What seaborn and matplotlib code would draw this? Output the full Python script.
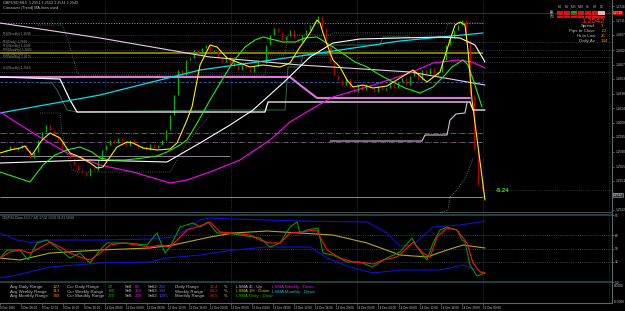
import numpy as np
import matplotlib
matplotlib.use("Agg")
import matplotlib.pyplot as plt
from matplotlib.patches import Rectangle
import seaborn as sns

# Velas GBPUSD M15 (cierres), una vela cada 4 pasos de tiempo
cierres = [1.2580, 1.2582, 1.2586, 1.2582, 1.2584, 1.2587, 1.2582, 1.2574, 1.2580, 1.2592,
           1.2600, 1.2607, 1.2602, 1.2597, 1.2592, 1.2584, 1.2580, 1.2574, 1.2567, 1.2562,
           1.2560, 1.2556, 1.2564, 1.2562, 1.2572, 1.2582, 1.2587, 1.2592, 1.2589, 1.2594,
           1.2590, 1.2586, 1.2592, 1.2588, 1.2584, 1.2586, 1.2582, 1.2588, 1.2584, 1.2587,
           1.2592, 1.2602, 1.2617, 1.2637, 1.2662, 1.2657, 1.2672, 1.2674, 1.2682, 1.2677,
           1.2684, 1.2687, 1.2680, 1.2682, 1.2674, 1.2670, 1.2676, 1.2666, 1.2670, 1.2662,
           1.2667, 1.2664, 1.2660, 1.2666, 1.2672, 1.2670, 1.2687, 1.2697, 1.2704, 1.2700,
           1.2692, 1.2696, 1.2702, 1.2694, 1.2690, 1.2697, 1.2702, 1.2707, 1.2710, 1.2716,
           1.2704, 1.2687, 1.2670, 1.2657, 1.2652, 1.2647, 1.2654, 1.2644, 1.2640, 1.2647,
           1.2642, 1.2648, 1.2644, 1.2640, 1.2646, 1.2642, 1.2644, 1.2648, 1.2644, 1.2650,
           1.2654, 1.2647, 1.2656, 1.2660, 1.2652, 1.2662, 1.2658, 1.2664, 1.2657, 1.2660,
           1.2672, 1.2687, 1.2694, 1.2702, 1.2707, 1.2712, 1.2692, 1.2637, 1.2582, 1.2547,
           1.2542]
t_velas = np.arange(2, 483, 4)

# Medias del grafico principal (x = paso de tiempo, y = precio)
amarilla_x = [0, 10, 20, 25, 32, 42, 50, 60, 70, 80, 90, 97, 103, 117, 127, 133, 143, 157, 170, 177,
              187, 192, 200, 210, 217, 227, 237, 250, 263, 280, 290, 300, 310, 317, 320, 323, 328, 333,
              340, 347, 353, 363, 373, 387, 400, 413, 427, 440, 450, 455, 460, 465, 468, 472, 485]
amarilla_y = [1.2579, 1.2582, 1.2584, 1.2586, 1.2577, 1.2592, 1.2599, 1.2594, 1.2579, 1.2575,
              1.2569, 1.2564, 1.2565, 1.2585, 1.2590, 1.2589, 1.2584, 1.2582, 1.2583, 1.2589,
              1.2612, 1.2625, 1.2667, 1.2687, 1.2685, 1.2674, 1.2670, 1.2665, 1.2667, 1.2665,
              1.2669, 1.2685, 1.2699, 1.2712, 1.2709, 1.2699, 1.2685, 1.2672, 1.2665, 1.2652,
              1.2645, 1.2647, 1.2644, 1.2646, 1.2654, 1.2662, 1.2650, 1.2660, 1.2692, 1.2707,
              1.2710, 1.2707, 1.2682, 1.2632, 1.2532]

lima_x = [0, 15, 30, 43, 55, 67, 80, 92, 100, 110, 125, 143, 157, 167, 180, 187, 193, 200, 210, 222,
          233, 245, 255, 263, 275, 283, 295, 305, 317, 325, 333, 345, 355, 367, 380, 393, 405, 420,
          433, 445, 452, 463, 468, 475, 482]
lima_y = [1.2560, 1.2555, 1.2550, 1.2567, 1.2577, 1.2582, 1.2585, 1.2580, 1.2574, 1.2572,
          1.2572, 1.2574, 1.2576, 1.2580, 1.2587, 1.2592, 1.2602, 1.2614, 1.2632, 1.2652,
          1.2670, 1.2685, 1.2692, 1.2695, 1.2692, 1.2690, 1.2690, 1.2694, 1.2695, 1.2690,
          1.2685, 1.2677, 1.2670, 1.2665, 1.2657, 1.2650, 1.2644, 1.2639, 1.2645, 1.2657,
          1.2665, 1.2672, 1.2667, 1.2647, 1.2625]

cian_x = [0, 100, 200, 300, 400, 483]
cian_y = [1.2619, 1.2637, 1.2662, 1.2676, 1.2691, 1.2699]

magenta_x = [0, 33, 67, 100, 133, 170, 187, 210, 240, 270, 290, 310, 333, 367, 410, 433, 458, 472, 485]
magenta_y = [1.2620, 1.2599, 1.2579, 1.2567, 1.2560, 1.2549, 1.2552, 1.2560, 1.2572, 1.2592,
             1.2610, 1.2622, 1.2635, 1.2645, 1.2659, 1.2669, 1.2672, 1.2670, 1.2664]

blanca_x = [0, 90, 167, 200, 230, 253, 283, 310, 333, 360, 400, 440, 460, 475, 485]
blanca_y = [1.2569, 1.2572, 1.2570, 1.2589, 1.2607, 1.2622, 1.2649, 1.2675, 1.2689, 1.2693,
            1.2694, 1.2695, 1.2694, 1.2687, 1.2670]

lila_x = [0, 100, 210, 300, 410, 485]
lila_y = [1.2709, 1.2694, 1.2675, 1.2667, 1.2660, 1.2647]

# lineas escalonadas (canales)
esc_blanca_x = [0, 60, 70, 77, 265, 268, 470, 473, 485]
esc_blanca_y = [1.2655, 1.2653, 1.2632, 1.2620, 1.2620, 1.2630, 1.2630, 1.2622, 1.2622]
esc_rosa_x = [0, 290, 300, 317, 470]
esc_rosa_y = [1.2655, 1.2655, 1.2647, 1.2634, 1.2634]
esc_clara_x = [330, 422, 425, 447, 450, 456, 465, 467]
esc_clara_y = [1.2591, 1.2591, 1.2597, 1.2597, 1.2612, 1.2618, 1.2619, 1.2629]
esc_sup_x = [38, 62, 68, 77, 80, 210, 265, 268, 285, 288, 330, 333, 445, 448, 483]
esc_sup_y = [1.2707, 1.2707, 1.2692, 1.2660, 1.2657, 1.2657, 1.2657, 1.2677, 1.2677, 1.2697,
             1.2697, 1.2699, 1.2699, 1.2709, 1.2709]
esc_inf_x = [40, 60, 62, 67, 72, 77, 170, 173, 187, 200, 210]
esc_inf_y = [1.2619, 1.2619, 1.2599, 1.2579, 1.2562, 1.2560, 1.2560, 1.2565, 1.2589, 1.2605, 1.2617]
esc_caida_x = [440, 448, 450, 457, 465, 470, 473]
esc_caida_y = [1.2519, 1.2522, 1.2535, 1.2542, 1.2554, 1.2565, 1.2574]
esc_verde_x = [40, 52, 57, 67, 77, 215, 285, 288, 300, 303, 330, 333, 380, 383, 410]
esc_verde_y = [1.2649, 1.2649, 1.2642, 1.2622, 1.2620, 1.2622, 1.2622, 1.2665, 1.2665, 1.2677,
               1.2677, 1.2687, 1.2687, 1.2695, 1.2695]

# niveles horizontales (pivotes)
niveles = [1.2709, 1.2697, 1.2679, 1.2650, 1.2599, 1.2590, 1.2535, 1.2576]
niveles_color = ["#b090b0", "#505050", "#808000", "#4060a0", "#806080", "#806080", "#7090d0", "#c8b8c8"]
niveles_estilo = [":", ":", "-", "--", "-.", "-.", "-", "-"]
niveles_fin = [483, 483, 483, 483, 483, 483, 483, 230]
niveles_ancho = [0.7, 0.5, 1.4, 0.6, 0.6, 0.6, 0.7, 0.5]
niveles_largos = [1.2690, 1.2682, 1.2675, 1.2670, 1.2660]
etiquetas_niv = ["R3(Weekly) 1.2698", "R2(Daily) 1.2690", "R1(Weekly) 1.2686", "PP(Monthly) 1.2682",
                 "R1(Daily) 1.2678", "PP(Weekly) 1.2675", "S1(Weekly) 1.2664"]
etiquetas_niv_y = [1.2698, 1.2690, 1.2686, 1.2682, 1.2678, 1.2675, 1.2664]
precio_ticks = [1.2522, 1.2551, 1.2565, 1.2580, 1.2595, 1.2609, 1.2624, 1.2638,
                1.2653, 1.2667, 1.2682, 1.2697, 1.2711, 1.2726]

# Indicador TDI (subventana)
rojo_x = [0, 10, 20, 30, 50, 60, 70, 80, 90, 100, 110, 123, 137, 150, 160, 170, 177, 187, 200, 210,
          220, 233, 250, 260, 270, 280, 290, 300, 317, 320, 327, 340, 353, 367, 373, 383, 397, 405,
          413, 423, 430, 437, 447, 457, 467, 473, 480, 485]
rojo_y = [37.2, 45.3, 48.0, 43.9, 58.7, 52.0, 43.9, 38.6, 34.5, 43.9, 54.7, 57.4, 54.7, 52.0, 54.7,
          52.0, 61.4, 74.8, 80.2, 85.6, 72.2, 70.8, 68.1, 61.4, 57.4, 57.4, 70.8, 72.2, 74.8, 65.4,
          48.0, 37.2, 31.9, 30.5, 29.2, 34.5, 38.6, 48.0, 58.7, 43.9, 38.6, 65.4, 77.5, 74.8, 57.4,
          30.5, 18.4, 17.1]
verde_x = [0, 7, 20, 28, 37, 47, 60, 70, 80, 90, 100, 107, 127, 147, 157, 165, 170, 180, 193, 200,
           208, 217, 227, 240, 260, 270, 280, 290, 297, 300, 307, 318, 323, 333, 347, 360, 372, 387,
           400, 412, 417, 427, 433, 440, 447, 457, 462, 465, 470, 477, 485]
verde_y = [37.2, 48.0, 48.0, 34.5, 57.4, 61.4, 48.0, 37.2, 43.9, 30.5, 48.0, 57.4, 57.4, 54.7, 70.8,
           43.9, 52.0, 78.9, 84.2, 78.9, 85.6, 70.8, 70.8, 68.1, 64.1, 52.0, 57.4, 78.9, 85.6, 70.8,
           74.8, 77.5, 43.9, 41.3, 31.9, 31.9, 25.1, 37.2, 45.3, 64.1, 52.0, 34.5, 57.4, 74.8, 78.9,
           74.8, 61.4, 58.7, 27.8, 13.1, 17.1]
oliva_x = [0, 20, 50, 100, 150, 173, 210, 233, 267, 300, 333, 367, 400, 427, 447, 463, 485]
oliva_y = [37.2, 34.5, 43.9, 48.0, 50.7, 54.7, 65.4, 70.8, 73.5, 70.8, 68.1, 57.4, 41.3, 38.6, 48.0, 54.7, 50.7]
azul_sup_x = [0, 17, 33, 43, 100, 150, 173, 190, 200, 210, 233, 300, 367, 387, 400, 413, 433, 460, 480, 485]
azul_sup_y = [70.8, 61.4, 57.4, 61.4, 61.4, 62.7, 65.4, 77.5, 88.3, 91.0, 89.6, 86.9, 85.6, 70.8,
              53.4, 54.7, 78.9, 81.6, 85.6, 86.9]
azul_inf_x = [0, 17, 50, 100, 150, 167, 200, 233, 267, 310, 327, 350, 373, 400, 440, 463, 485]
azul_inf_y = [10.4, 14.4, 25.1, 30.5, 31.9, 37.2, 41.3, 48.0, 52.0, 52.0, 37.2, 25.1, 17.1, 21.1, 21.1, 27.8, 17.1]

tiempo_ticks = [0, 21, 42, 63, 84, 105, 126, 147, 168, 189, 210, 231, 252, 273, 294, 315, 336, 357,
                378, 399, 420, 441, 462, 483]
tiempo_labels = ["9 Dec 2016", "9 Dec 08:00", "9 Dec 12:00", "9 Dec 16:00", "9 Dec 20:00",
                 "12 Dec 00:00", "12 Dec 04:00", "12 Dec 08:00", "12 Dec 12:00", "12 Dec 16:00",
                 "12 Dec 20:00", "13 Dec 00:00", "13 Dec 04:00", "13 Dec 08:00", "13 Dec 12:00",
                 "13 Dec 16:00", "13 Dec 20:00", "14 Dec 00:00", "14 Dec 04:00", "14 Dec 08:00",
                 "14 Dec 12:00", "14 Dec 16:00", "14 Dec 20:00", "15 Dec 00:00"]
grid_x = [105, 231, 357, 483, 609]

# panel de texto inferior
filas = ["Daily", "Weekly", "Monthly"]
rango_prom = ["127", "313", "740"]
rango_act = ["28", "190", "270"]
sell1 = ["89", "110", "200"]
sell2 = ["242", "904", "1095"]
rango_pct = ["22.4", "63.3", "38.5"]
lsma_1 = [("LSMA 4I : Up", "#e0a8e0"), ("LSMA 1H : Down", "#c8c000"), ("LSMA Daily : Down", "#00c000")]
lsma_2 = [("LSMA Weekly : Down", "#ff00ff"), ("LSMA Monthly : Down", "#00c8c8")]

# panel superior derecho
marcos = ["M1", "M5", "M15", "M30", "H1", "H4", "D1"]
estados = [["r", "r", "g", "r", "r", "r", "p"],
           ["r", "r", "r", "r", "r", "r", "p"],
           ["r", "r", "r", "r", "r", "r", "r"]]
info = [("Spread", "3"), ("Pips to Close", "-22"), ("Hi to Low", "26"), ("Daily Av", "144")]

sns.set_theme(style="dark", rc={"axes.facecolor": "black", "figure.facecolor": "black",
                                "savefig.facecolor": "black"})
plt.rcParams["font.family"] = ["Liberation Sans", "DejaVu Sans"]

W, H = 625, 311
fig = plt.figure(figsize=(W / 100, H / 100), dpi=100, facecolor="black")


def px(x, y):
    return x / W, 1 - y / H


def linea(ax, x, y, color, lw=0.75, ls="-", z=3):
    sns.lineplot(x=x, y=y, ax=ax, color=color, linewidth=lw, linestyle=ls, sort=False,
                 estimator=None, legend=False, zorder=z)


ax = fig.add_axes([0, 1 - 213 / H, 612 / W, 213 / H])
ax2 = fig.add_axes([0, 1 - 303 / H, 612 / W, 90 / H])

# ---- grafico principal
for gx in grid_x:
    ax.axvline(gx, color="#44524e", ls=":", lw=0.5, zorder=0)
    ax2.axvline(gx, color="#44524e", ls=":", lw=0.5, zorder=0)

ax.hlines(1.2719, 0, 612, color="#a00000", lw=0.7, zorder=1)
for nv, c, st, fin, an in zip(niveles, niveles_color, niveles_estilo, niveles_fin, niveles_ancho):
    ax.hlines(nv, 0, fin, color=c, ls=st, lw=an, zorder=1)
for nv in niveles_largos:
    ax.hlines(nv, 0, 612, color="#5a5a5a", ls=":", lw=0.5, zorder=1)
ax.hlines(1.2542, 483, 612, color="#505050", ls=":", lw=0.5, zorder=1)

aperturas = [cierres[0]] + cierres[:-1]
col_velas = ["#00b400" if c >= o else "#b40000" for o, c in zip(aperturas, cierres)]
ax.vlines(t_velas, np.minimum(aperturas, cierres), np.maximum(aperturas, cierres),
          colors=col_velas, lw=0.9, zorder=2)

linea(ax, esc_sup_x, esc_sup_y, "#6a7a70", 0.6, ":")
linea(ax, esc_inf_x, esc_inf_y, "#6a6a6a", 0.6, ":")
linea(ax, esc_caida_x, esc_caida_y, "#8a8a8a", 0.6, ":")
linea(ax, esc_verde_x, esc_verde_y, "#2f6a4a", 0.7)
linea(ax, esc_clara_x, esc_clara_y, "#d8c0d8", 0.8)
linea(ax, esc_rosa_x, esc_rosa_y, "#dd77dd", 1.5)
linea(ax, esc_blanca_x, esc_blanca_y, "#ffffff", 0.9)
linea(ax, lila_x, lila_y, "#e8cce8", 0.8)
linea(ax, cian_x, cian_y, "#00e0f0", 0.9)
linea(ax, magenta_x, magenta_y, "#ff00ff", 0.8)
linea(ax, blanca_x, blanca_y, "#ffffff", 0.8)
linea(ax, lima_x, lima_y, "#20ee20", 0.8)
linea(ax, amarilla_x, amarilla_y, "#ffee00", 0.8, z=4)

ax.set_xlim(0, 612)
ax.set_ylim(1.2519, 1.2732)
ax.set_xlabel("")
ax.set_ylabel("")
ax.set_xticks([])
ax.yaxis.tick_right()
ax.set_yticks(precio_ticks)
ax.set_yticklabels([f"{p:.4f}" for p in precio_ticks])
ax.tick_params(axis="y", right=True, left=False, labelright=True, labelleft=False, length=1.5,
               width=0.5, color="#708080", labelsize=2.3, labelcolor="#c0c0c0", pad=0.8)
for s in ["top", "left"]:
    ax.spines[s].set_visible(False)
ax.spines["right"].set_color("#5a6a6a")
ax.spines["right"].set_linewidth(0.8)
ax.spines["bottom"].set_color("#4a5a5a")
ax.spines["bottom"].set_linewidth(1.2)

for txt, yv in zip(etiquetas_niv, etiquetas_niv_y):
    ax.text(3, yv, txt, fontsize=2.3, color="#8a8a8a", va="center", ha="left")

ax.text(613, 1.2719, "1.2719", fontsize=2.3, color="white", va="center", ha="left", clip_on=False,
        bbox=dict(boxstyle="square,pad=0.15", fc="#d00000", ec="none"))
ax.text(613, 1.2537, "1.2542", fontsize=2.3, color="#e0e0e0", va="center", ha="left", clip_on=False,
        bbox=dict(boxstyle="square,pad=0.15", fc="#303838", ec="#a0a0a0", lw=0.4))
ax.text(496, 1.2541, "-5.24", fontsize=4.3, color="#00ff00", fontweight="bold", va="center", ha="left")

# ---- subventana TDI
ax2.axhline(95, color="#2f4f4f", lw=1.1, zorder=1)
ax2.axhline(5, color="#2f4f4f", lw=1.1, zorder=1)
for lv in [68, 50, 32]:
    ax2.axhline(lv, color="#5a6a6a", ls=":", lw=0.5, zorder=1)

linea(ax2, azul_sup_x, azul_sup_y, "#1010d0", 0.8)
linea(ax2, azul_inf_x, azul_inf_y, "#1010d0", 0.8)
linea(ax2, oliva_x, oliva_y, "#b0a818", 0.8)
linea(ax2, verde_x, verde_y, "#009a00", 0.8)
linea(ax2, rojo_x, rojo_y, "#ff1010", 0.8, z=4)

ax2.set_xlim(0, 612)
ax2.set_ylim(-23.2, 97.7)
ax2.set_xlabel("")
ax2.set_ylabel("")
ax2.yaxis.tick_right()
ax2.set_yticks([95, 68, 50, 32, 5])
ax2.set_yticklabels(["95", "68", "50", "32", "5.0"])
ax2.tick_params(axis="y", right=True, left=False, labelright=True, labelleft=False, length=1.5,
                width=0.5, color="#708080", labelsize=2.3, labelcolor="#c0c0c0", pad=0.8)
ax2.set_xticks(tiempo_ticks)
ax2.set_xticklabels(tiempo_labels, ha="left")
ax2.tick_params(axis="x", bottom=True, length=1.5, width=0.5, color="#708080", labelsize=2.2,
                labelcolor="#c0c0c0", pad=0.8)
ax2.text(614, -1.0, "0.0000", fontsize=2.3, color="#c0c0c0", va="center", ha="left", clip_on=False)
ax2.text(614, -21.9, "-0.0000", fontsize=2.3, color="#c0c0c0", va="center", ha="left", clip_on=False)
for s in ["top", "left"]:
    ax2.spines[s].set_visible(False)
for s in ["right", "bottom"]:
    ax2.spines[s].set_color("#5a6a6a")
    ax2.spines[s].set_linewidth(0.8)

# ---- textos
fig.text(*px(3, 3), "GBPUSD,M15  1.2551 1.2553 1.2541 1.2542", fontsize=2.7, color="#c0c0c0", va="center")
fig.text(*px(3, 8), "Crossover (Trend) MA-lines used", fontsize=2.7, color="#c0c0c0", va="center")
fig.text(*px(2, 218), "TDI(RSI-Close,13,2,7,34) 17.06 13.09 21.41 50.68", fontsize=2.3,
         color="#a0a0a0", va="center")

fs = 3.2
filas_y = [287, 291.5, 296]
for i, fy in enumerate(filas_y):
    fig.text(*px(10, fy), f"Avg {filas[i]} Range", fontsize=fs, color="#c0c0c0", va="center")
    fig.text(*px(53, fy), rango_prom[i], fontsize=fs, color="#ff8c00", va="center")
    fig.text(*px(67, fy), f"Cur {filas[i]} Range", fontsize=fs, color="#c0c0c0", va="center")
    fig.text(*px(108, fy), rango_act[i], fontsize=fs, color="#00c000", va="center")
    fig.text(*px(125, fy), "Sell:", fontsize=fs, color="#c0c0c0", va="center")
    fig.text(*px(135, fy), sell1[i], fontsize=fs, color="#ff00ff", va="center")
    fig.text(*px(148, fy), "Sell2:", fontsize=fs, color="#c0c0c0", va="center")
    fig.text(*px(159, fy), sell2[i], fontsize=fs, color="#4a4aff", va="center")
    fig.text(*px(175, fy), f"{filas[i]} Range", fontsize=fs, color="#c0c0c0", va="center")
    fig.text(*px(204, fy), ":", fontsize=fs, color="#c0c0c0", va="center")
    fig.text(*px(210, fy), rango_pct[i], fontsize=fs, color="#ff2020", va="center")
    fig.text(*px(224, fy), "%", fontsize=fs, color="#c0c0c0", va="center")
    fig.text(*px(236, fy), lsma_1[i][0], fontsize=fs, color=lsma_1[i][1], va="center")
for i, (txt, c) in enumerate(lsma_2):
    fig.text(*px(272, filas_y[i]), txt, fontsize=fs, color=c, va="center")

# panel superior derecho
col_est = {"r": "#e01010", "g": "#10b010", "p": "#f0b0b0"}
for j, m in enumerate(marcos):
    fig.text(*px(560 + 6.9 * j, 7), m, fontsize=2.2, color="#c0c0c0", va="center", ha="center")
for i, fila in enumerate(estados):
    fy = 11 + 2.5 * i
    fig.text(*px(550, fy + 0.8), ["MA", "RSI", "STO"][i], fontsize=1.8, color="#e0e0e0", va="center")
    for j, e in enumerate(fila):
        fig.add_artist(Rectangle(px(557 + 6.9 * j, fy + 1.7), 6.2 / W, 1.7 / H,
                                 transform=fig.transFigure, fc=col_est[e], ec="none"))
fig.text(*px(605, 21.5), "1.2542", fontsize=5.5, color="#ff3030", va="center", ha="right")
for i, (lab, val) in enumerate(info):
    fy = 26 + 5 * i
    fig.text(*px(595, fy), lab, fontsize=3.2, color="#c0c0c0", va="center", ha="right")
    fig.text(*px(601, fy), val, fontsize=3.2, color="#ff8c00", va="center", ha="left")

fig.savefig("out.png", dpi=100, facecolor="black")
